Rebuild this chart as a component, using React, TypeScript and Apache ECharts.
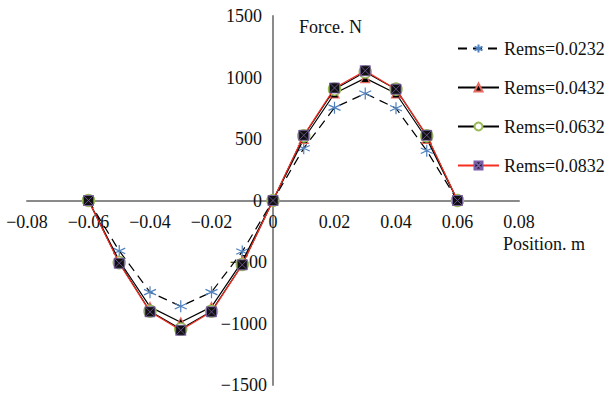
import React, { useEffect, useRef } from "react";
import * as echarts from "echarts";

// Positions along the stroke (m)
const positions = [-0.06, -0.05, -0.04, -0.03, -0.02, -0.01, 0, 0.01, 0.02, 0.03, 0.04, 0.05, 0.06];

// Force (N) for each Rems value
const rems0232 = [0, -410, -745, -860, -745, -415, 0, 425, 755, 870, 750, 405, 0];
const rems0432 = [0, -490, -865, -990, -865, -495, 0, 500, 870, 995, 870, 500, 0];
const rems0632 = [0, -505, -900, -1045, -900, -520, 0, 525, 905, 1045, 905, 525, 0];
const rems0832 = [0, -510, -905, -1055, -905, -523, 0, 530, 915, 1055, 905, 530, 0];

const seriesNames = ["Rems=0.0232", "Rems=0.0432", "Rems=0.0632", "Rems=0.0832"];

const FONT = "Liberation Serif";
const FS = 18;
const MINUS = "\u2212";

// Plot area; both axes cross at the centre of it
const GRID = { left: 27, right: 89, top: 16, bottom: 13 };
const W = 608;
const H = 398;
const plotW = W - GRID.left - GRID.right;
const plotH = H - GRID.top - GRID.bottom;

const pair = (ys: number[]) => positions.map((x, i) => [x, ys[i]]);

const asterisk = "path://M5 0L5 10M0.7 2.7L9.3 7.3M0.7 7.3L9.3 2.7";
const crossedSquare = "path://M0 0H10V10H0Z M0 0L10 10M10 0L0 10";

export default function App() {
  const ref = useRef<HTMLDivElement>(null);

  useEffect(() => {
    if (!ref.current) return;
    const chart = echarts.init(ref.current, null, { renderer: "svg" });
    chart.setOption({
      animation: false,
      backgroundColor: "#fff",
      textStyle: { fontFamily: FONT },
      grid: GRID,
      xAxis: {
        type: "value",
        min: -0.08,
        max: 0.08,
        interval: 0.02,
        position: "bottom",
        offset: -plotH / 2,
        axisLine: { onZero: false, lineStyle: { color: "#8a8a8a", width: 2 } },
        axisTick: { show: false },
        splitLine: { show: false },
        axisLabel: {
          margin: 12,
          fontFamily: FONT,
          fontSize: FS,
          color: "#111",
          formatter: (v: number) => {
            const r = Math.round(v * 100) / 100;
            if (r === 0) return "0";
            return r < 0 ? MINUS + Math.abs(r).toFixed(2) : r.toFixed(2);
          },
        },
      },
      yAxis: {
        type: "value",
        min: -1500,
        max: 1500,
        interval: 500,
        position: "left",
        offset: -plotW / 2,
        axisLine: { onZero: false, lineStyle: { color: "#8a8a8a", width: 2 } },
        axisTick: { show: false },
        splitLine: { show: false },
        axisLabel: {
          margin: 6,
          fontFamily: FONT,
          fontSize: FS,
          color: "#111",
          formatter: (v: number) =>
            v < 0 ? "{n|" + MINUS + Math.abs(v) + "}" : "{p|" + v + "}",
          rich: {
            n: { fontFamily: FONT, fontSize: FS, color: "#111" },
            p: { fontFamily: FONT, fontSize: FS, color: "#111", padding: [0, 5, 0, 0] },
          },
        },
      },
      legend: {
        orient: "vertical",
        left: 452,
        top: 33,
        itemWidth: 41,
        itemHeight: 10,
        itemGap: 18,
        data: seriesNames,
        textStyle: { fontFamily: FONT, fontSize: FS, color: "#111", lineHeight: 21 },
      },
      graphic: [
        {
          type: "text",
          left: 299,
          top: 18,
          style: { text: "Force. N", font: `${FS}px ${FONT}`, fill: "#111" },
        },
        {
          type: "text",
          left: 503,
          top: 235,
          style: { text: "Position. m", font: `${FS}px ${FONT}`, fill: "#111" },
        },
      ],
      series: [
        {
          name: seriesNames[0],
          type: "line",
          data: pair(rems0232),
          symbol: asterisk,
          symbolSize: 12,
          lineStyle: { color: "#000", width: 1.2, type: [9, 6] },
          itemStyle: { color: "rgba(0,0,0,0)", borderColor: "#4f81bd", borderWidth: 1.2 },
          z: 2,
        },
        {
          name: seriesNames[1],
          type: "line",
          data: pair(rems0432),
          symbol: "triangle",
          symbolSize: 9,
          lineStyle: { color: "#000", width: 1.2 },
          itemStyle: { color: "#000", borderColor: "#e8695e", borderWidth: 1.2 },
          z: 3,
        },
        {
          name: seriesNames[2],
          type: "line",
          data: pair(rems0632),
          symbol: "circle",
          symbolSize: 12,
          lineStyle: { color: "#000", width: 1.2 },
          itemStyle: { color: "#fff", borderColor: "#9bbb59", borderWidth: 1.5 },
          z: 4,
        },
        {
          name: seriesNames[3],
          type: "line",
          data: pair(rems0832),
          symbol: crossedSquare,
          symbolSize: 10,
          lineStyle: { color: "#f52f22", width: 1.2 },
          itemStyle: { color: "#111", borderColor: "#7a5fa8", borderWidth: 0.8 },
          z: 5,
        },
      ],
    });
    return () => chart.dispose();
  }, []);

  return (
    <div
      ref={ref}
      style={{ position: "fixed", left: 0, top: 0, width: W, height: H }}
    />
  );
}
